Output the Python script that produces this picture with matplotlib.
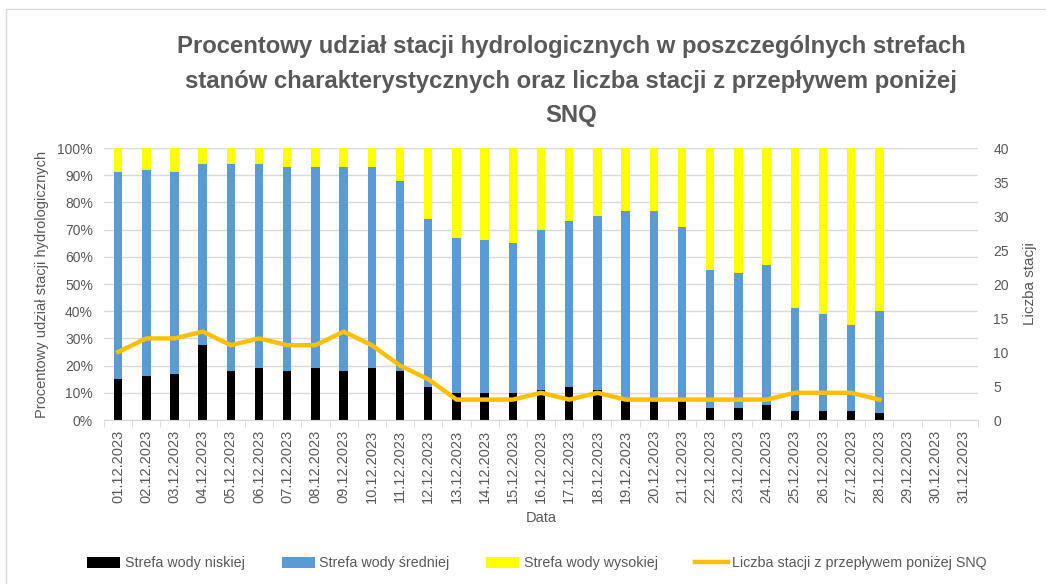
import numpy as np
import matplotlib
matplotlib.use('Agg')
import matplotlib.pyplot as plt
from matplotlib.patches import Rectangle

plt.rcParams['font.family'] = ['Liberation Sans', 'DejaVu Sans']

# dates 01.12.2023 - 31.12.2023
dates = ['%02d.12.2023' % d for d in range(1, 32)]

# percentage of stations in low-water zone (black)
low = [15, 16, 17, 27.5, 18, 19, 18, 19, 18, 19, 18, 12, 10, 10, 10, 11, 12, 11, 8, 7, 7,
       4.4, 4.4, 5.5, 3.4, 3.4, 3.4, 2.4]
# cumulative top of the medium zone (blue)
mid_top = [91, 92, 91, 94, 94, 94, 93, 93, 93, 93, 88, 74, 67, 66, 65, 70, 73, 75, 77, 77, 71,
           55, 54, 57, 41, 39, 35, 40]
# number of stations with flow below SNQ
snq_count = [10, 12, 12, 13, 11, 12, 11, 11, 13, 11, 8, 6, 3, 3, 3, 4, 3, 4, 3, 3, 3,
             3, 3, 3, 4, 4, 4, 3]

low = np.array(low)
mid = np.array(mid_top) - low
high = 100 - np.array(mid_top)
x = np.arange(len(low))

gray = '#595959'
grid = '#D9D9D9'

fig = plt.figure(figsize=(10.46, 5.84), dpi=100)
# chart frame
fig.patches.append(Rectangle((6/1046, -0.1), 1.2, 1 - 9/584 + 0.1, transform=fig.transFigure,
                             fill=False, edgecolor=grid, lw=1))

ax = fig.add_axes([104/1046, 1 - 420/584, (978-104)/1046, (420-148)/584])
ax2 = ax.twinx()

w = 0.3
ax.bar(x, low, width=w, color='black', label='Strefa wody niskiej', zorder=3)
ax.bar(x, mid, width=w, bottom=low, color='#5B9BD5', label='Strefa wody średniej', zorder=3)
ax.bar(x, high, width=w, bottom=low + mid, color='#FFFF00', label='Strefa wody wysokiej', zorder=3)
ax2.plot(x, snq_count, color='#FFC000', lw=3.2, solid_joinstyle='round',
         label='Liczba stacji z przepływem poniżej SNQ', zorder=4)

ax.set_xlim(-0.5, len(dates) - 0.5)
ax.set_ylim(0, 100)
ax.set_yticks(np.arange(0, 101, 10))
ax.set_yticklabels(['%d%%' % v for v in range(0, 101, 10)])
ax.yaxis.grid(True, color=grid, lw=1, zorder=0)
ax.set_axisbelow(True)
ax.set_xticks(np.arange(len(dates)))
ax.set_xticklabels(dates, rotation=90, fontsize=10.5, color=gray)
ax.set_xticks(np.arange(len(dates) + 1) - 0.5, minor=True)
ax.tick_params(axis='x', which='major', length=0, pad=7)
ax.tick_params(axis='x', which='minor', length=5, color=grid)
ax.tick_params(axis='y', length=0, labelsize=10, labelcolor=gray, pad=8)

ax2.set_ylim(0, 40)
ax2.set_yticks(np.arange(0, 41, 5))
ax2.tick_params(axis='y', length=0, labelsize=10, labelcolor=gray, pad=11)

for a in (ax, ax2):
    for s in ('top', 'left', 'right'):
        a.spines[s].set_visible(False)
    a.spines['bottom'].set_color(grid)

ax.set_xlabel('Data', fontsize=10.5, color=gray, labelpad=6)
ax.set_ylabel('Procentowy udział stacji hydrologicznych', fontsize=10.5, color=gray, labelpad=6)
ax2.set_ylabel('Liczba stacji', fontsize=11, color=gray, labelpad=10)

fig.text(571/1046, 1 - 35/584,
         'Procentowy udział stacji hydrologicznych w poszczególnych strefach\n'
         'stanów charakterystycznych oraz liczba stacji z przepływem poniżej\nSNQ',
         ha='center', va='top', fontsize=17.2, fontweight='bold', color=gray, linespacing=1.65)

h1, l1 = ax.get_legend_handles_labels()
h2, l2 = ax2.get_legend_handles_labels()
fig.legend(h1 + h2, l1 + l2, loc='center', bbox_to_anchor=(537/1046, 1 - 563/584), ncol=4,
           frameon=False, fontsize=10.3, labelcolor=gray, handlelength=2.3, handleheight=0.8,
           columnspacing=2.6, handletextpad=0.3)

fig.savefig('out.png', dpi=100)
